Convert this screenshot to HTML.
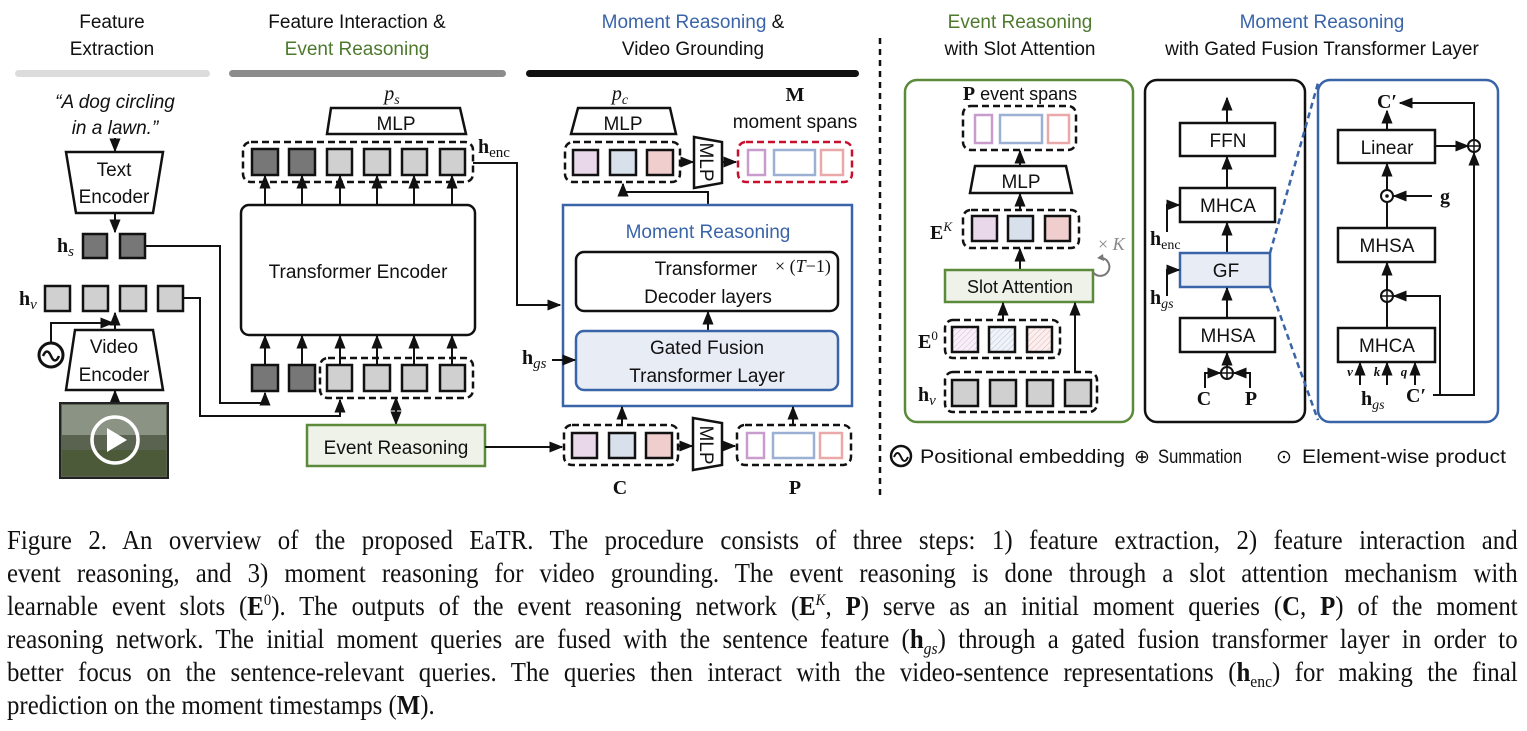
<!DOCTYPE html>
<html><head><meta charset="utf-8">
<style>
html,body{margin:0;padding:0;background:#fff;width:1527px;height:731px;overflow:hidden}
svg{position:absolute;left:0;top:0}
text{font-family:"Liberation Sans",sans-serif;font-size:19px;fill:#111}
.s{font-family:"Liberation Serif",serif}
.b{font-weight:bold}
.i{font-style:italic}
#cap{position:absolute;left:7px;top:524px;width:1642px;font-family:"Liberation Serif",serif;font-size:27px;line-height:33px;color:#111;transform:scaleX(0.92);transform-origin:0 0}
#cap div{height:33px;text-align:justify;text-align-last:justify;white-space:nowrap}
#cap div.l{text-align-last:left}
.sp{position:relative;top:-10px;font-size:16px;line-height:0}
.sb{position:relative;top:6px;font-size:17px;line-height:0}
</style></head><body>
<svg width="1527" height="731" viewBox="0 0 1527 731">
<defs>
<marker id="a" viewBox="0 0 10 10" refX="9" refY="5" markerWidth="7" markerHeight="7" orient="auto-start-reverse"><path d="M0,1 L10,5 L0,9 z" fill="#111"/></marker>
<pattern id="h1" width="4" height="4" patternUnits="userSpaceOnUse" patternTransform="rotate(45)"><rect width="4" height="4" fill="#f8f0f8"/><line x1="0" y1="0" x2="0" y2="4" stroke="#d8b8d8" stroke-width="1"/></pattern>
<pattern id="h2" width="4" height="4" patternUnits="userSpaceOnUse" patternTransform="rotate(45)"><rect width="4" height="4" fill="#f0f3f8"/><line x1="0" y1="0" x2="0" y2="4" stroke="#b8c4dc" stroke-width="1"/></pattern>
<pattern id="h3" width="4" height="4" patternUnits="userSpaceOnUse" patternTransform="rotate(45)"><rect width="4" height="4" fill="#fbf0f0"/><line x1="0" y1="0" x2="0" y2="4" stroke="#e8b0b0" stroke-width="1"/></pattern>
</defs>
<g fill="none" stroke="#111" stroke-width="2.5">

<!-- headers -->
<text x="112" y="28" text-anchor="middle" stroke="none">Feature</text>
<text x="112" y="55" text-anchor="middle" stroke="none">Extraction</text>
<rect x="15" y="70" width="195" height="7" rx="3.5" fill="#dcdcdc" stroke="none"/>
<text x="357" y="28" text-anchor="middle" stroke="none">Feature Interaction &amp;</text>
<text x="357" y="55" text-anchor="middle" stroke="none" style="fill:#4e7a2e">Event Reasoning</text>
<rect x="229" y="70" width="277" height="7" rx="3.5" fill="#8c8c8c" stroke="none"/>
<text x="693" y="28" text-anchor="middle" stroke="none"><tspan style="fill:#3a64a8">Moment Reasoning</tspan> &amp;</text>
<text x="693" y="55" text-anchor="middle" stroke="none">Video Grounding</text>
<rect x="526" y="70" width="333" height="7" rx="3.5" fill="#111" stroke="none"/>
<line x1="880" y1="38" x2="880" y2="495" stroke-dasharray="6,5" stroke-width="2.5"/>
<text x="1020" y="28" text-anchor="middle" stroke="none" style="fill:#4e7a2e">Event Reasoning</text>
<text x="1020" y="55" text-anchor="middle" stroke="none">with Slot Attention</text>
<text x="1322" y="28" text-anchor="middle" stroke="none" style="fill:#3a64a8">Moment Reasoning</text>
<text x="1322" y="55" text-anchor="middle" stroke="none">with Gated Fusion Transformer Layer</text>

<!-- left column -->
<text x="115" y="108" text-anchor="middle" stroke="none" class="i">“A dog circling</text>
<text x="115" y="134" text-anchor="middle" stroke="none" class="i">in a lawn.”</text>
<line x1="115" y1="138" x2="115" y2="151" marker-end="url(#a)" stroke-width="2"/>
<path d="M66,152 L163,152 L153,213 L76,213 z" stroke-width="2.5"/>
<text x="114" y="176" text-anchor="middle" stroke="none">Text</text>
<text x="114" y="203" text-anchor="middle" stroke="none">Encoder</text>
<line x1="115" y1="213" x2="115" y2="232" marker-end="url(#a)" stroke-width="2"/>
<text x="57" y="252" stroke="none" class="s b" style="font-size:20px">h<tspan class="i" style="font-weight:normal;font-size:15px" dy="4">s</tspan></text>
<rect x="83" y="234" width="24" height="24" fill="#777"/>
<rect x="120" y="234" width="25" height="24" fill="#777"/>
<path d="M145,246 L220,246 L220,403 L265,403 L265,393" stroke-width="2" marker-end="url(#a)"/>
<text x="19" y="305" stroke="none" class="s b" style="font-size:20px">h<tspan class="i" style="font-weight:normal;font-size:15px" dy="4">v</tspan></text>
<rect x="45" y="286" width="25" height="25" fill="#d0d0d0"/>
<rect x="83" y="286" width="25" height="25" fill="#d0d0d0"/>
<rect x="120" y="286" width="26" height="25" fill="#d0d0d0"/>
<rect x="158" y="286" width="25" height="25" fill="#d0d0d0"/>
<path d="M183,298 L200,298 L200,416 L340,416 L340,400" stroke-width="2" marker-end="url(#a)"/>
<circle cx="51" cy="355" r="12" stroke-width="3"/>
<path d="M43,356 q4,-9 8,0 q4,9 8,0" stroke-width="2.5"/>
<path d="M51,343 L51,323 L113,323" stroke-width="2" marker-end="url(#a)"/>
<path d="M75,330 L153,330 L163,390 L66,390 z" stroke-width="2.5"/>
<text x="114" y="353" text-anchor="middle" stroke="none">Video</text>
<text x="114" y="381" text-anchor="middle" stroke="none">Encoder</text>
<line x1="115" y1="330" x2="115" y2="313" marker-end="url(#a)" stroke-width="2"/>
<line x1="115" y1="403" x2="115" y2="391" marker-end="url(#a)" stroke-width="2"/>
<rect x="60" y="403" width="108" height="75" fill="#5a6350" stroke="#222" stroke-width="2"/>
<rect x="62" y="405" width="104" height="30" fill="#8a9384" stroke="none"/>
<rect x="62" y="450" width="104" height="26" fill="#4c5a3a" stroke="none"/>
<circle cx="115" cy="440" r="23" stroke="#fff" stroke-width="3.5"/>
<path d="M107,428 L127,440 L107,452 z" fill="#fff" stroke="none"/>

<!-- transformer encoder -->
<text x="392" y="100" text-anchor="middle" stroke="none" class="s i" style="font-size:20px">p<tspan dy="4" style="font-size:14px">s</tspan></text>
<path d="M331,108 L460,108 L466,134 L327,134 z"/>
<text x="396" y="130" text-anchor="middle" stroke="none">MLP</text>
<rect x="243" y="142" width="230" height="40" rx="8" stroke-dasharray="7,4"/>
<rect x="252" y="149" width="26" height="26" fill="#777"/>
<rect x="289" y="149" width="26" height="26" fill="#777"/>
<rect x="327" y="149" width="25" height="26" fill="#d0d0d0"/>
<rect x="364" y="149" width="26" height="26" fill="#d0d0d0"/>
<rect x="402" y="149" width="25" height="26" fill="#d0d0d0"/>
<rect x="440" y="149" width="25" height="26" fill="#d0d0d0"/>
<g stroke-width="2" marker-end="url(#a)">
<line x1="265" y1="205" x2="265" y2="176"/><line x1="302" y1="205" x2="302" y2="176"/><line x1="340" y1="205" x2="340" y2="176"/><line x1="377" y1="205" x2="377" y2="176"/><line x1="414" y1="205" x2="414" y2="176"/><line x1="452" y1="205" x2="452" y2="176"/>
<line x1="265" y1="365" x2="265" y2="336"/><line x1="302" y1="365" x2="302" y2="336"/><line x1="340" y1="365" x2="340" y2="336"/><line x1="377" y1="365" x2="377" y2="336"/><line x1="414" y1="365" x2="414" y2="336"/><line x1="452" y1="365" x2="452" y2="336"/>
</g>
<rect x="241" y="205" width="234" height="130" rx="8"/>
<text x="358" y="278" text-anchor="middle" stroke="none">Transformer Encoder</text>
<text x="478" y="153" stroke="none" class="s b" style="font-size:20px">h<tspan dy="4" style="font-size:15px;font-weight:normal">enc</tspan></text>
<path d="M473,163 L517,163 L517,305 L560,305" stroke-width="2" marker-end="url(#a)"/>
<rect x="252" y="365" width="26" height="26" fill="#777"/>
<rect x="289" y="365" width="26" height="26" fill="#777"/>
<rect x="320" y="358" width="153" height="40" rx="8" stroke-dasharray="7,4"/>
<rect x="327" y="365" width="25" height="26" fill="#d0d0d0"/>
<rect x="364" y="365" width="26" height="26" fill="#d0d0d0"/>
<rect x="402" y="365" width="25" height="26" fill="#d0d0d0"/>
<rect x="440" y="365" width="25" height="26" fill="#d0d0d0"/>
<line x1="396" y1="398" x2="396" y2="424" stroke-width="2" marker-end="url(#a)" marker-start="url(#a)"/>
<rect x="307" y="425" width="178" height="41" fill="#eef2e8" stroke="#5a8a3a"/>
<text x="396" y="454" text-anchor="middle" stroke="none">Event Reasoning</text>
<line x1="485" y1="447" x2="562" y2="447" stroke-width="2" marker-end="url(#a)"/>

<!-- moment reasoning -->
<text x="620" y="100" text-anchor="middle" stroke="none" class="s i" style="font-size:20px">p<tspan dy="4" style="font-size:14px">c</tspan></text>
<path d="M578,108 L670,108 L676,134 L571,134 z"/>
<text x="623" y="130" text-anchor="middle" stroke="none">MLP</text>
<rect x="565" y="142" width="115" height="40" rx="8" stroke-dasharray="7,4"/>
<rect x="573" y="150" width="25" height="25" fill="#e8d8ea"/>
<rect x="610" y="150" width="26" height="25" fill="#d8e0ec"/>
<rect x="647" y="150" width="26" height="25" fill="#f0cece"/>
<line x1="680" y1="162" x2="693" y2="162" stroke-width="2" marker-end="url(#a)"/>
<path d="M694,137 L722,142 L722,183 L694,188 z"/>
<text transform="translate(700,162) rotate(90)" text-anchor="middle" stroke="none">MLP</text>
<line x1="722" y1="162" x2="736" y2="162" stroke-width="2" marker-end="url(#a)"/>
<rect x="738" y="142" width="114" height="40" rx="8" stroke="#c8102e" stroke-dasharray="7,4"/>
<rect x="748" y="150" width="17" height="25" stroke="#c89ccc" stroke-width="2.5"/>
<rect x="774" y="150" width="41" height="25" stroke="#9cb0d4" stroke-width="2.5"/>
<rect x="821" y="150" width="22" height="25" stroke="#eaa8a8" stroke-width="2.5"/>
<text x="795" y="101" text-anchor="middle" stroke="none" class="s b" style="font-size:20px">M</text>
<text x="795" y="128" text-anchor="middle" stroke="none">moment spans</text>
<path d="M708,205 L708,192 L623,192 L623,184" stroke-width="2" marker-end="url(#a)"/>
<rect x="563" y="205" width="289" height="201" stroke="#3a64a8" stroke-width="2.5"/>
<text x="708" y="238" text-anchor="middle" stroke="none" style="fill:#3a64a8">Moment Reasoning</text>
<rect x="576" y="252" width="262" height="59" rx="8"/>
<text x="706" y="275" text-anchor="middle" stroke="none">Transformer</text>
<text x="775" y="272" stroke="none" class="s" style="font-size:18px">× (<tspan class="i">T</tspan>−1)</text>
<text x="708" y="303" text-anchor="middle" stroke="none">Decoder layers</text>
<line x1="708" y1="331" x2="708" y2="312" stroke-width="2" marker-end="url(#a)"/>
<rect x="576" y="331" width="262" height="59" rx="8" fill="#e8ecf5" stroke="#3a64a8"/>
<text x="707" y="354" text-anchor="middle" stroke="none">Gated Fusion</text>
<text x="707" y="382" text-anchor="middle" stroke="none">Transformer Layer</text>
<text x="522" y="364" stroke="none" class="s b" style="font-size:20px">h<tspan dy="4" style="font-size:15px;font-weight:normal" class="i">gs</tspan></text>
<line x1="552" y1="360" x2="575" y2="360" stroke-width="2" marker-end="url(#a)"/>
<rect x="564" y="425" width="114" height="40" rx="8" stroke-dasharray="7,4"/>
<rect x="572" y="433" width="25" height="25" fill="#e8d8ea"/>
<rect x="609" y="433" width="26" height="25" fill="#d8e0ec"/>
<rect x="646" y="433" width="26" height="25" fill="#f0cece"/>
<line x1="678" y1="446" x2="692" y2="446" stroke-width="2" marker-end="url(#a)"/>
<path d="M693,418 L722,423 L722,465 L693,470 z"/>
<text transform="translate(700,445) rotate(90)" text-anchor="middle" stroke="none">MLP</text>
<line x1="722" y1="446" x2="735" y2="446" stroke-width="2" marker-end="url(#a)"/>
<rect x="737" y="425" width="114" height="40" rx="8" stroke-dasharray="7,4"/>
<rect x="747" y="433" width="17" height="25" stroke="#c89ccc" stroke-width="2.5"/>
<rect x="773" y="433" width="41" height="25" stroke="#9cb0d4" stroke-width="2.5"/>
<rect x="820" y="433" width="22" height="25" stroke="#eaa8a8" stroke-width="2.5"/>
<line x1="622" y1="425" x2="622" y2="407" stroke-width="2" marker-end="url(#a)"/>
<line x1="793" y1="425" x2="793" y2="407" stroke-width="2" marker-end="url(#a)"/>
<text x="620" y="494" text-anchor="middle" stroke="none" class="s b" style="font-size:20px">C</text>
<text x="795" y="494" text-anchor="middle" stroke="none" class="s b" style="font-size:20px">P</text>

<!-- slot attention panel -->
<rect x="905" y="80" width="228" height="342" rx="12" stroke="#5a8a3a"/>
<text x="1020" y="100" text-anchor="middle" stroke="none" style="font-size:18px"><tspan class="s b" style="font-size:20px">P</tspan> event spans</text>
<rect x="963" y="106" width="113" height="44" rx="8" stroke-dasharray="7,4"/>
<rect x="975" y="115" width="17" height="28" stroke="#c89ccc"/>
<rect x="1000" y="115" width="42" height="28" stroke="#9cb0d4"/>
<rect x="1048" y="115" width="21" height="28" stroke="#eaa8a8"/>
<line x1="1020" y1="166" x2="1020" y2="151" stroke-width="2" marker-end="url(#a)"/>
<path d="M975,166 L1066,166 L1072,193 L970,193 z"/>
<text x="1021" y="188" text-anchor="middle" stroke="none">MLP</text>
<line x1="1020" y1="210" x2="1020" y2="194" stroke-width="2" marker-end="url(#a)"/>
<text x="930" y="239" stroke="none" class="s b" style="font-size:20px">E<tspan dy="-8" class="i" style="font-size:13px;font-weight:normal">K</tspan></text>
<rect x="963" y="210" width="116" height="38" rx="8" stroke-dasharray="7,4"/>
<rect x="972" y="216" width="25" height="25" fill="#e8d8ea"/>
<rect x="1008" y="216" width="25" height="25" fill="#d8e0ec"/>
<rect x="1045" y="216" width="25" height="25" fill="#f0cece"/>
<line x1="1020" y1="270" x2="1020" y2="249" stroke-width="2" marker-end="url(#a)"/>
<rect x="945" y="270" width="148" height="32" fill="#eef2e8" stroke="#5a8a3a"/>
<text x="1020" y="293" text-anchor="middle" stroke="none" style="font-size:18px">Slot Attention</text>
<path d="M1093,272 A9,9 0 1 0 1102,258" stroke="#777" stroke-width="2"/>
<path d="M1097,258 l6,-4 l1,7 z" fill="#777" stroke="none"/>
<text x="1098" y="250" stroke="none" class="s" style="font-size:18px;fill:#888">× <tspan class="i">K</tspan></text>
<text x="918" y="348" stroke="none" class="s b" style="font-size:20px">E<tspan dy="-8" style="font-size:13px;font-weight:normal">0</tspan></text>
<line x1="1003" y1="320" x2="1003" y2="303" stroke-width="2" marker-end="url(#a)"/>
<rect x="945" y="320" width="115" height="38" rx="8" stroke-dasharray="7,4"/>
<rect x="952" y="327" width="26" height="25" fill="url(#h1)"/>
<rect x="989" y="327" width="26" height="25" fill="url(#h2)"/>
<rect x="1027" y="327" width="25" height="25" fill="url(#h3)"/>
<text x="918" y="401" stroke="none" class="s b" style="font-size:20px">h<tspan dy="4" class="i" style="font-size:15px;font-weight:normal">v</tspan></text>
<rect x="945" y="372" width="152" height="40" rx="8" stroke-dasharray="7,4"/>
<rect x="952" y="380" width="26" height="26" fill="#d0d0d0"/>
<rect x="990" y="380" width="26" height="26" fill="#d0d0d0"/>
<rect x="1027" y="380" width="26" height="26" fill="#d0d0d0"/>
<rect x="1065" y="380" width="26" height="26" fill="#d0d0d0"/>
<line x1="1075" y1="372" x2="1075" y2="303" stroke-width="2" marker-end="url(#a)"/>

<!-- black panel -->
<rect x="1145" y="80" width="160" height="342" rx="12"/>
<line x1="1227" y1="123" x2="1227" y2="98" stroke-width="2" marker-end="url(#a)"/>
<rect x="1180" y="123" width="95" height="33"/>
<text x="1228" y="147" text-anchor="middle" stroke="none">FFN</text>
<line x1="1227" y1="188" x2="1227" y2="157" stroke-width="2" marker-end="url(#a)"/>
<rect x="1180" y="188" width="95" height="34"/>
<text x="1228" y="212" text-anchor="middle" stroke="none">MHCA</text>
<line x1="1227" y1="253" x2="1227" y2="223" stroke-width="2" marker-end="url(#a)"/>
<rect x="1180" y="253" width="90" height="34" fill="#e8ecf5" stroke="#3a64a8"/>
<text x="1226" y="277" text-anchor="middle" stroke="none">GF</text>
<line x1="1227" y1="318" x2="1227" y2="288" stroke-width="2" marker-end="url(#a)"/>
<rect x="1180" y="318" width="95" height="34"/>
<text x="1228" y="342" text-anchor="middle" stroke="none">MHSA</text>
<path d="M1167,232 L1167,205 L1179,205" stroke-width="2" marker-end="url(#a)"/>
<path d="M1167,296 L1167,270 L1179,270" stroke-width="2" marker-end="url(#a)"/>
<text x="1150" y="245" stroke="none" class="s b" style="font-size:20px">h<tspan dy="4" style="font-size:14px;font-weight:normal">enc</tspan></text>
<text x="1150" y="304" stroke="none" class="s b" style="font-size:20px">h<tspan dy="4" class="i" style="font-size:14px;font-weight:normal">gs</tspan></text>
<circle cx="1227" cy="373" r="6" stroke-width="2"/>
<path d="M1221,373 h12 M1227,367 v12" stroke-width="1.5"/>
<line x1="1227" y1="367" x2="1227" y2="353" stroke-width="2" marker-end="url(#a)"/>
<path d="M1205,388 L1205,373 L1220,373" stroke-width="2" marker-end="url(#a)"/>
<path d="M1250,388 L1250,373 L1234,373" stroke-width="2" marker-end="url(#a)"/>
<text x="1204" y="405" text-anchor="middle" stroke="none" class="s b" style="font-size:20px">C</text>
<text x="1251" y="405" text-anchor="middle" stroke="none" class="s b" style="font-size:20px">P</text>
<line x1="1270" y1="253" x2="1318" y2="83" stroke="#3a64a8" stroke-dasharray="6,4"/>
<line x1="1270" y1="287" x2="1318" y2="420" stroke="#3a64a8" stroke-dasharray="6,4"/>

<!-- blue panel -->
<rect x="1318" y="80" width="180" height="342" rx="12" stroke="#3a64a8"/>
<text x="1387" y="108" text-anchor="middle" stroke="none" class="s b" style="font-size:20px">C′</text>
<line x1="1387" y1="130" x2="1387" y2="111" stroke-width="2" marker-end="url(#a)"/>
<rect x="1338" y="130" width="97" height="33"/>
<text x="1387" y="154" text-anchor="middle" stroke="none">Linear</text>
<line x1="1435" y1="146" x2="1468" y2="146" stroke-width="2" marker-end="url(#a)"/>
<circle cx="1474" cy="146" r="6" stroke-width="2"/>
<path d="M1468,146 h12 M1474,140 v12" stroke-width="1.5"/>
<path d="M1474,140 L1474,103 L1400,103" stroke-width="2" marker-end="url(#a)"/>
<line x1="1387" y1="189" x2="1387" y2="164" stroke-width="2" marker-end="url(#a)"/>
<circle cx="1387" cy="196" r="6" stroke-width="2"/>
<circle cx="1387" cy="196" r="1.8" fill="#111" stroke="none"/>
<line x1="1432" y1="196" x2="1394" y2="196" stroke-width="2" marker-end="url(#a)"/>
<text x="1440" y="203" stroke="none" class="s b" style="font-size:20px">g</text>
<line x1="1387" y1="228" x2="1387" y2="203" stroke-width="2"/>
<rect x="1338" y="228" width="97" height="34"/>
<text x="1387" y="252" text-anchor="middle" stroke="none">MHSA</text>
<line x1="1387" y1="290" x2="1387" y2="263" stroke-width="2" marker-end="url(#a)"/>
<circle cx="1387" cy="296" r="6" stroke-width="2"/>
<path d="M1381,296 h12 M1387,290 v12" stroke-width="1.5"/>
<path d="M1440,395 L1440,296 L1394,296" stroke-width="2" marker-end="url(#a)"/>
<line x1="1387" y1="328" x2="1387" y2="302" stroke-width="2"/>
<rect x="1338" y="328" width="97" height="34"/>
<text x="1387" y="352" text-anchor="middle" stroke="none">MHCA</text>
<line x1="1360" y1="385" x2="1360" y2="363" stroke-width="2" marker-end="url(#a)"/>
<line x1="1387" y1="385" x2="1387" y2="363" stroke-width="2" marker-end="url(#a)"/>
<line x1="1415" y1="385" x2="1415" y2="363" stroke-width="2" marker-end="url(#a)"/>
<text x="1350" y="376" text-anchor="middle" stroke="none" class="s i b" style="font-size:13px">v</text>
<text x="1377" y="376" text-anchor="middle" stroke="none" class="s i b" style="font-size:13px">k</text>
<text x="1404" y="376" text-anchor="middle" stroke="none" class="s i b" style="font-size:13px">q</text>
<text x="1361" y="405" stroke="none" class="s b" style="font-size:20px">h<tspan dy="4" class="i" style="font-size:14px;font-weight:normal">gs</tspan></text>
<text x="1406" y="402" stroke="none" class="s b" style="font-size:20px">C′</text>
<path d="M1433,395 L1474,395 L1474,153" stroke-width="2" marker-end="url(#a)"/>

<!-- legend -->
<circle cx="901" cy="456" r="10" stroke-width="2.5"/>
<path d="M894,457 q3.5,-8 7,0 q3.5,8 7,0" stroke-width="2"/>
<text x="920" y="463" stroke="none" textLength="205" lengthAdjust="spacingAndGlyphs">Positional embedding</text>
<text x="1134" y="463" stroke="none">⊕</text>
<text x="1158" y="463" stroke="none" textLength="84" lengthAdjust="spacingAndGlyphs">Summation</text>
<text x="1276" y="463" stroke="none">⊙</text>
<text x="1302" y="463" stroke="none" textLength="204" lengthAdjust="spacingAndGlyphs">Element-wise product</text>
</g>
</svg>
<div id="cap">
<div>Figure 2. An overview of the proposed EaTR. The procedure consists of three steps: 1) feature extraction, 2) feature interaction and</div>
<div>event reasoning, and 3) moment reasoning for video grounding. The event reasoning is done through a slot attention mechanism with</div>
<div>learnable event slots (<b>E</b><span class="sp">0</span>). The outputs of the event reasoning network (<b>E</b><span class="sp"><i>K</i></span>, <b>P</b>) serve as an initial moment queries (<b>C</b>, <b>P</b>) of the moment</div>
<div>reasoning network. The initial moment queries are fused with the sentence feature (<b>h</b><span class="sb"><i>gs</i></span>) through a gated fusion transformer layer in order to</div>
<div>better focus on the sentence-relevant queries. The queries then interact with the video-sentence representations (<b>h</b><span class="sb">enc</span>) for making the final</div>
<div class="l">prediction on the moment timestamps (<b>M</b>).</div>
</div>
</body></html>
